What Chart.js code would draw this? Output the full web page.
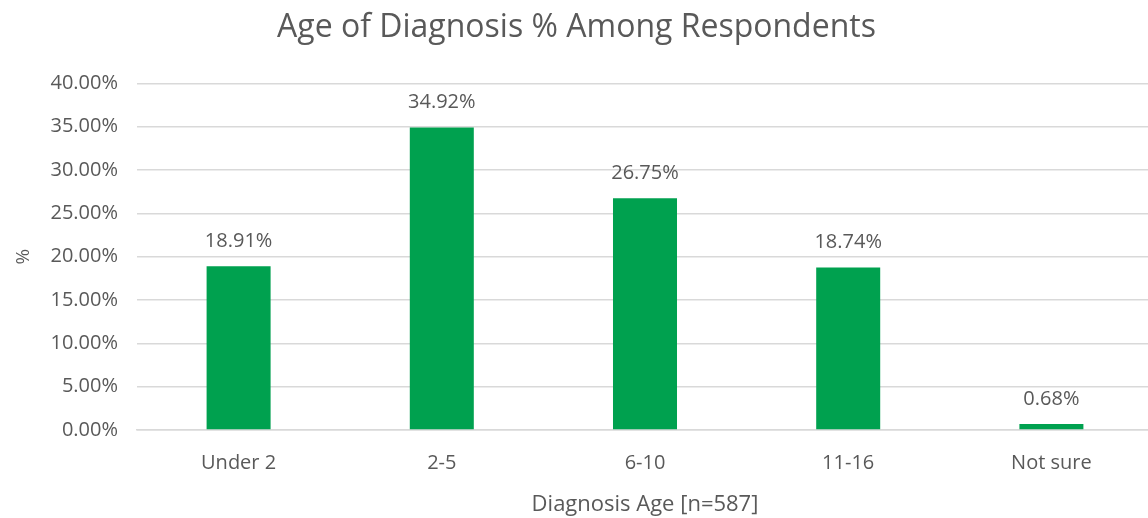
<!DOCTYPE html>
<html>
<head>
<meta charset="utf-8">
<script src="https://cdn.jsdelivr.net/npm/chart.js@4/dist/chart.umd.min.js"></script>
<style>
  html, body { margin: 0; padding: 0; background: #fff; overflow: hidden; }
  #wrap { width: 1153px; height: 518px; position: relative; }
</style>
</head>
<body>
<div id="wrap"><canvas id="ageChart"></canvas></div>
<script>
// Dados
const categories = ['Under 2', '2-5', '6-10', '11-16', 'Not sure'];
const percentValues = [18.91, 34.92, 26.75, 18.74, 0.68];
const yTicks = [0, 5, 10, 15, 20, 25, 30, 35, 40];

const textGray = '#595959';
const fontFamily = '"Open Sans", "Liberation Sans", sans-serif';

// Rótulos acima das barras (sem o plugin datalabels)
const barLabels = {
    id: 'barLabels',
    afterDatasetsDraw(chart) {
        const ctx = chart.ctx;
        const meta = chart.getDatasetMeta(0);
        ctx.save();
        ctx.font = '20px ' + fontFamily;
        ctx.fillStyle = textGray;
        ctx.textAlign = 'center';
        ctx.textBaseline = 'middle';
        meta.data.forEach((bar, i) => {
            ctx.fillText(percentValues[i].toFixed(2) + '%', bar.x, bar.y - 25);
        });
        ctx.restore();
    }
};

new Chart(document.getElementById('ageChart'), {
    type: 'bar',
    data: {
        labels: categories,
        datasets: [{
            data: percentValues,
            backgroundColor: '#00a14f',
            borderWidth: 0,
            categoryPercentage: 1,
            barPercentage: 0.315
        }]
    },
    options: {
        responsive: true,
        maintainAspectRatio: false,
        animation: false,
        layout: { padding: { left: 0, right: 0, top: 0, bottom: 0 } },
        plugins: {
            legend: { display: false },
            tooltip: { enabled: false },
            title: {
                display: true,
                text: 'Age of Diagnosis % Among Respondents',
                color: textGray,
                font: { family: fontFamily, size: 32, weight: 'normal' },
                padding: { top: 9, bottom: 36 }
            }
        },
        scales: {
            x: {
                grid: { display: false, drawTicks: false },
                border: { display: true, color: '#d9d9d9', width: 1.5 },
                ticks: {
                    color: textGray,
                    font: { family: fontFamily, size: 20 },
                    padding: 21
                },
                title: {
                    display: true,
                    text: 'Diagnosis Age [n=587]',
                    color: textGray,
                    font: { family: fontFamily, size: 22 },
                    padding: { top: 6, bottom: 0 }
                },
                afterFit(scale) { scale.height = 88; }
            },
            y: {
                min: 0,
                max: 40,
                afterBuildTicks(scale) {
                    scale.ticks = yTicks.map(v => ({ value: v }));
                },
                grid: { color: '#d9d9d9', lineWidth: 1.5, drawTicks: false },
                border: { display: false },
                ticks: {
                    color: textGray,
                    font: { family: fontFamily, size: 20 },
                    padding: 19,
                    callback: v => v.toFixed(2) + '%'
                },
                title: {
                    display: true,
                    text: '%',
                    color: textGray,
                    font: { family: fontFamily, size: 19 },
                    padding: { top: 12, bottom: 4 }
                },
                afterFit(scale) { scale.width = 137; }
            }
        }
    },
    plugins: [barLabels]
});
</script>
</body>
</html>
